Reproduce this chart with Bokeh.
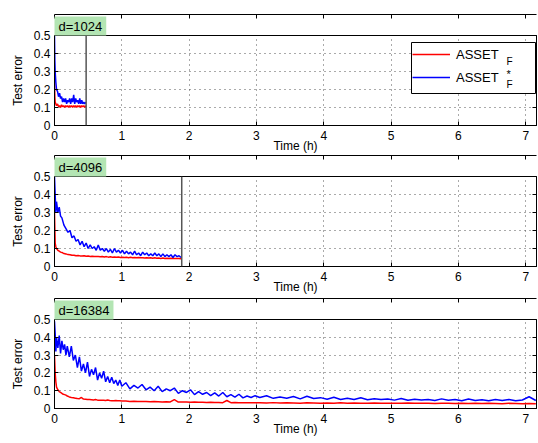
from bokeh.plotting import figure
from bokeh.layouts import column
from bokeh.models import (Span, Label, Legend, LegendItem, LinearAxis, Range1d, Title,
                          FixedTicker, CustomJSTickFormatter, BoxAnnotation)
from bokeh.embed import file_html
from bokeh.resources import INLINE

FONT = "Liberation Sans"

# ---------------- data ----------------
x_ticks = [0, 1, 2, 3, 4, 5, 6, 7]
y_ticks = [0, 0.1, 0.2, 0.3, 0.4, 0.5]
panel_titles = ["d=1024", "d=4096", "d=16384"]
end_times = [0.47, 1.89]           # vertical markers in panel 1 and 2

# d=1024
t1 = [0, 0.005, 0.01, 0.02, 0.03, 0.045, 0.06, 0.075, 0.09, 0.105, 0.12, 0.135,
      0.15, 0.165, 0.18, 0.195, 0.21, 0.225, 0.24, 0.255, 0.27, 0.285, 0.3, 0.315,
      0.33, 0.345, 0.36, 0.375, 0.39, 0.405, 0.42, 0.435, 0.45, 0.465]
blue1 = [0.50, 0.36, 0.30, 0.24, 0.20, 0.19, 0.16, 0.18, 0.15, 0.16, 0.13, 0.15,
         0.13, 0.15, 0.12, 0.14, 0.13, 0.15, 0.12, 0.15, 0.13, 0.17, 0.12, 0.15,
         0.13, 0.14, 0.12, 0.15, 0.12, 0.14, 0.12, 0.13, 0.12, 0.13]
red1 = [0.25, 0.16, 0.13, 0.12, 0.11, 0.12, 0.105, 0.11, 0.10, 0.115, 0.105, 0.11,
        0.10, 0.11, 0.105, 0.11, 0.10, 0.11, 0.105, 0.11, 0.10, 0.11, 0.105, 0.11,
        0.10, 0.11, 0.105, 0.11, 0.10, 0.11, 0.105, 0.11, 0.10, 0.11]

# d=4096
t2 = [0, 0.01, 0.02, 0.03, 0.05, 0.07, 0.09, 0.11,
      0.14, 0.17, 0.20, 0.23, 0.26, 0.29, 0.32, 0.35, 0.38, 0.41,
      0.44, 0.47, 0.50, 0.53, 0.56, 0.59, 0.62, 0.65, 0.68, 0.71,
      0.74, 0.77, 0.80, 0.83, 0.86, 0.89, 0.92, 0.95, 0.98, 1.01,
      1.04, 1.07, 1.10, 1.13, 1.16, 1.19, 1.22, 1.25, 1.28, 1.31,
      1.34, 1.37, 1.40, 1.43, 1.46, 1.49, 1.52, 1.55, 1.58, 1.61,
      1.64, 1.67, 1.70, 1.73, 1.76, 1.79, 1.82, 1.85, 1.88]
blue2 = [0.50, 0.40, 0.30, 0.36, 0.30, 0.33, 0.28, 0.27,
         0.23, 0.21, 0.19, 0.20, 0.16, 0.17, 0.14, 0.15, 0.12, 0.14,
         0.11, 0.13, 0.10, 0.12, 0.10, 0.11, 0.09, 0.12, 0.09, 0.10,
         0.085, 0.10, 0.08, 0.095, 0.075, 0.10, 0.08, 0.09, 0.075, 0.09,
         0.07, 0.085, 0.07, 0.08, 0.065, 0.085, 0.065, 0.075, 0.06, 0.08,
         0.065, 0.075, 0.06, 0.07, 0.06, 0.075, 0.06, 0.07, 0.055, 0.07,
         0.055, 0.065, 0.055, 0.065, 0.05, 0.065, 0.055, 0.06, 0.05]
red2 = [0.30, 0.13, 0.11, 0.10, 0.09, 0.085, 0.08, 0.078,
        0.072, 0.07, 0.066, 0.065, 0.062, 0.063, 0.06, 0.061, 0.059, 0.058,
        0.06, 0.057, 0.058, 0.056, 0.057, 0.055, 0.056, 0.055, 0.054, 0.056,
        0.053, 0.055, 0.052, 0.054, 0.052, 0.053, 0.051, 0.053, 0.05, 0.052,
        0.05, 0.051, 0.049, 0.051, 0.049, 0.05, 0.048, 0.05, 0.048, 0.049,
        0.047, 0.049, 0.047, 0.048, 0.046, 0.048, 0.046, 0.047, 0.045, 0.047,
        0.045, 0.046, 0.045, 0.046, 0.044, 0.045, 0.044, 0.045, 0.043]

# d=16384
t3a = [0, 0.01, 0.02, 0.03, 0.05, 0.07, 0.09, 0.11, 0.13, 0.15, 0.17, 0.19]
blue3a = [0.49, 0.42, 0.32, 0.40, 0.34, 0.41, 0.31, 0.38, 0.33, 0.36, 0.30, 0.35]
red3a = [0.30, 0.20, 0.15, 0.12, 0.105, 0.095, 0.09, 0.085, 0.08, 0.078, 0.075, 0.07]

t3b = [0.22, 0.25, 0.28, 0.31, 0.34, 0.37, 0.40, 0.43, 0.46, 0.49, 0.52, 0.55, 0.58,
       0.61, 0.64, 0.67, 0.70, 0.73, 0.76, 0.79, 0.82, 0.85, 0.88, 0.91, 0.94, 0.97, 1.00]
blue3b = [0.29, 0.35, 0.27, 0.30, 0.23, 0.29, 0.21, 0.25, 0.20, 0.26, 0.18, 0.22, 0.19,
          0.23, 0.16, 0.20, 0.17, 0.21, 0.15, 0.18, 0.145, 0.175, 0.14, 0.16, 0.13,
          0.16, 0.125]
red3b = [0.065, 0.062, 0.06, 0.058, 0.056, 0.055, 0.062, 0.053, 0.052, 0.05, 0.05,
         0.049, 0.048, 0.05, 0.047, 0.047, 0.046, 0.046, 0.045, 0.048, 0.045, 0.044,
         0.044, 0.045, 0.043, 0.043, 0.042]

t3c = [1.06, 1.12, 1.18, 1.24, 1.30, 1.36, 1.42, 1.48, 1.54, 1.60, 1.66, 1.72, 1.78,
       1.84, 1.90, 1.96, 2.02, 2.08, 2.14, 2.20, 2.26, 2.32, 2.38, 2.44, 2.50, 2.56,
       2.62, 2.68, 2.74, 2.80, 2.86, 2.92, 2.98]
blue3c = [0.145, 0.11, 0.13, 0.115, 0.135, 0.105, 0.12, 0.10, 0.125, 0.095, 0.11, 0.10,
          0.115, 0.085, 0.10, 0.09, 0.105, 0.078, 0.095, 0.08, 0.09, 0.072, 0.088,
          0.07, 0.09, 0.066, 0.078, 0.064, 0.08, 0.06, 0.07, 0.062, 0.072]
red3c = [0.042, 0.04, 0.041, 0.04, 0.039, 0.04, 0.038, 0.039, 0.038, 0.037, 0.038,
         0.037, 0.05, 0.036, 0.037, 0.036, 0.035, 0.036, 0.035, 0.035, 0.034, 0.035,
         0.034, 0.034, 0.033, 0.045, 0.033, 0.034, 0.033, 0.033, 0.032, 0.033, 0.032]

t3d = [3.05, 3.15, 3.25, 3.35, 3.45, 3.55, 3.65, 3.75, 3.85, 3.95,
       4.05, 4.15, 4.25, 4.35, 4.45, 4.55, 4.65, 4.75, 4.85, 4.95,
       5.05, 5.15, 5.25, 5.35, 5.45, 5.55, 5.65, 5.75, 5.85, 5.95,
       6.05, 6.15, 6.25, 6.35, 6.45, 6.55, 6.65, 6.75, 6.85, 6.95,
       7.05, 7.15]
blue3d = [0.062, 0.072, 0.057, 0.064, 0.058, 0.067, 0.054, 0.069, 0.056, 0.061,
          0.052, 0.063, 0.051, 0.057, 0.05, 0.06, 0.049, 0.055, 0.05, 0.054,
          0.047, 0.056, 0.046, 0.052, 0.048, 0.051, 0.045, 0.054, 0.046, 0.05,
          0.044, 0.053, 0.045, 0.049, 0.043, 0.05, 0.045, 0.051, 0.043, 0.048,
          0.066, 0.045]
red3d = [0.032, 0.031, 0.033, 0.031, 0.032, 0.031, 0.03, 0.032, 0.031, 0.03,
         0.031, 0.03, 0.032, 0.03, 0.031, 0.03, 0.029, 0.031, 0.03, 0.029,
         0.03, 0.029, 0.031, 0.029, 0.03, 0.029, 0.028, 0.03, 0.029, 0.028,
         0.029, 0.028, 0.03, 0.028, 0.029, 0.028, 0.027, 0.029, 0.028, 0.027,
         0.028, 0.027]

t3 = t3a + t3b + t3c + t3d
blue3 = blue3a + blue3b + blue3c + blue3d
red3 = red3a + red3b + red3c + red3d

RED = "#ff0000"
BLUE = "#0000ff"


def make_panel(title, t, red, blue, vline, top, frame_h):
    p = figure(frame_width=482, frame_height=frame_h,
               x_range=Range1d(0, 7.16), y_range=Range1d(0, 0.5),
               output_backend="svg", toolbar_location=None,
               min_border_left=54, min_border_right=2,
               min_border_top=top, min_border_bottom=20)
    p.outline_line_color = "black"
    p.outline_line_width = 1
    p.add_layout(Title(text=title, align="left", offset=0, standoff=0,
                       padding=dict(x=4, y=2),
                       text_font=FONT, text_font_size="13px", text_font_style="normal",
                       text_color="black", background_fill_color="#b3e5b3"), "above")
    fmt = CustomJSTickFormatter(code="return String(tick)")
    for ax in (p.xaxis[0], p.yaxis[0]):
        ax.major_tick_in = 4
        ax.major_tick_out = 0
        ax.minor_tick_line_color = None
        ax.axis_line_color = "black"
        ax.major_label_text_font = FONT
        ax.major_label_text_font_size = "12px"
        ax.major_label_text_color = "black"
        ax.axis_label_text_font = FONT
        ax.axis_label_text_font_size = "12px"
        ax.axis_label_text_font_style = "normal"
        ax.axis_label_text_color = "black"
        ax.formatter = fmt
    p.xaxis.ticker = FixedTicker(ticks=x_ticks)
    p.yaxis.ticker = FixedTicker(ticks=y_ticks)
    p.xaxis.axis_label = "Time (h)"
    p.yaxis.axis_label = "Test error"
    p.xaxis.major_label_standoff = 5
    p.xaxis.axis_label_standoff = -4
    p.yaxis.major_label_standoff = 4
    p.yaxis.axis_label_standoff = 6
    # mirrored tick marks on top and right
    blank = CustomJSTickFormatter(code="return ''")
    top_ax = LinearAxis(ticker=FixedTicker(ticks=x_ticks), formatter=blank,
                        major_tick_in=4, major_tick_out=0, minor_tick_line_color=None,
                        major_label_standoff=0, axis_line_color="black")
    right_ax = LinearAxis(ticker=FixedTicker(ticks=y_ticks), formatter=blank,
                          major_tick_in=4, major_tick_out=0, minor_tick_line_color=None,
                          major_label_standoff=0, axis_line_color="black")
    p.add_layout(top_ax, "above")
    p.add_layout(right_ax, "right")
    for g, ticks in ((p.xgrid[0], x_ticks), (p.ygrid[0], y_ticks)):
        g.ticker = FixedTicker(ticks=ticks)
        g.grid_line_color = "#555555"
        g.grid_line_dash = "1 4"
        g.grid_line_width = 1
    r_red = p.line(t, red, line_color=RED, line_width=1.5)
    r_blue = p.line(t, blue, line_color=BLUE, line_width=1.5)
    if vline is not None:
        p.add_layout(Span(location=vline, dimension="height",
                          line_color="#555555", line_width=1.5))
    return p, r_red, r_blue


p1, rr1, rb1 = make_panel(panel_titles[0], t1, red1, blue1, end_times[0], 35, 90)
p2, rr2, rb2 = make_panel(panel_titles[1], t2, red2, blue2, end_times[1], 21, 90)
p3, rr3, rb3 = make_panel(panel_titles[2], t3, red3, blue3, None, 23, 89)

# legend box (white, black border) in screen units relative to the frame
p1.add_layout(BoxAnnotation(left=357, right=481, bottom=32, top=83,
                            left_units="screen", right_units="screen",
                            bottom_units="screen", top_units="screen",
                            fill_color="white", fill_alpha=1,
                            line_color="black", line_width=1, line_alpha=1))
legend = Legend(items=[LegendItem(label="ASSET", renderers=[rr1]),
                       LegendItem(label="ASSET", renderers=[rb1])],
                location=(358, 39), orientation="vertical",
                glyph_width=38, glyph_height=18, label_height=18, label_width=60,
                spacing=5, padding=6, label_standoff=6, margin=0,
                label_text_font=FONT, label_text_font_size="13px",
                label_text_color="black",
                border_line_color=None, background_fill_alpha=0)
p1.add_layout(legend)
for txt, yy, size in (("F", 64, "10px"), ("*", 52, "11px"), ("F", 41, "10px")):
    p1.add_layout(Label(x=452, y=yy, x_units="screen", y_units="screen", text=txt,
                        text_font=FONT, text_font_size=size, text_color="black",
                        text_baseline="alphabetic", text_align="left"))

layout = column(p1, p2, p3, spacing=0)
open("out.html", "w").write(file_html(layout, INLINE))
